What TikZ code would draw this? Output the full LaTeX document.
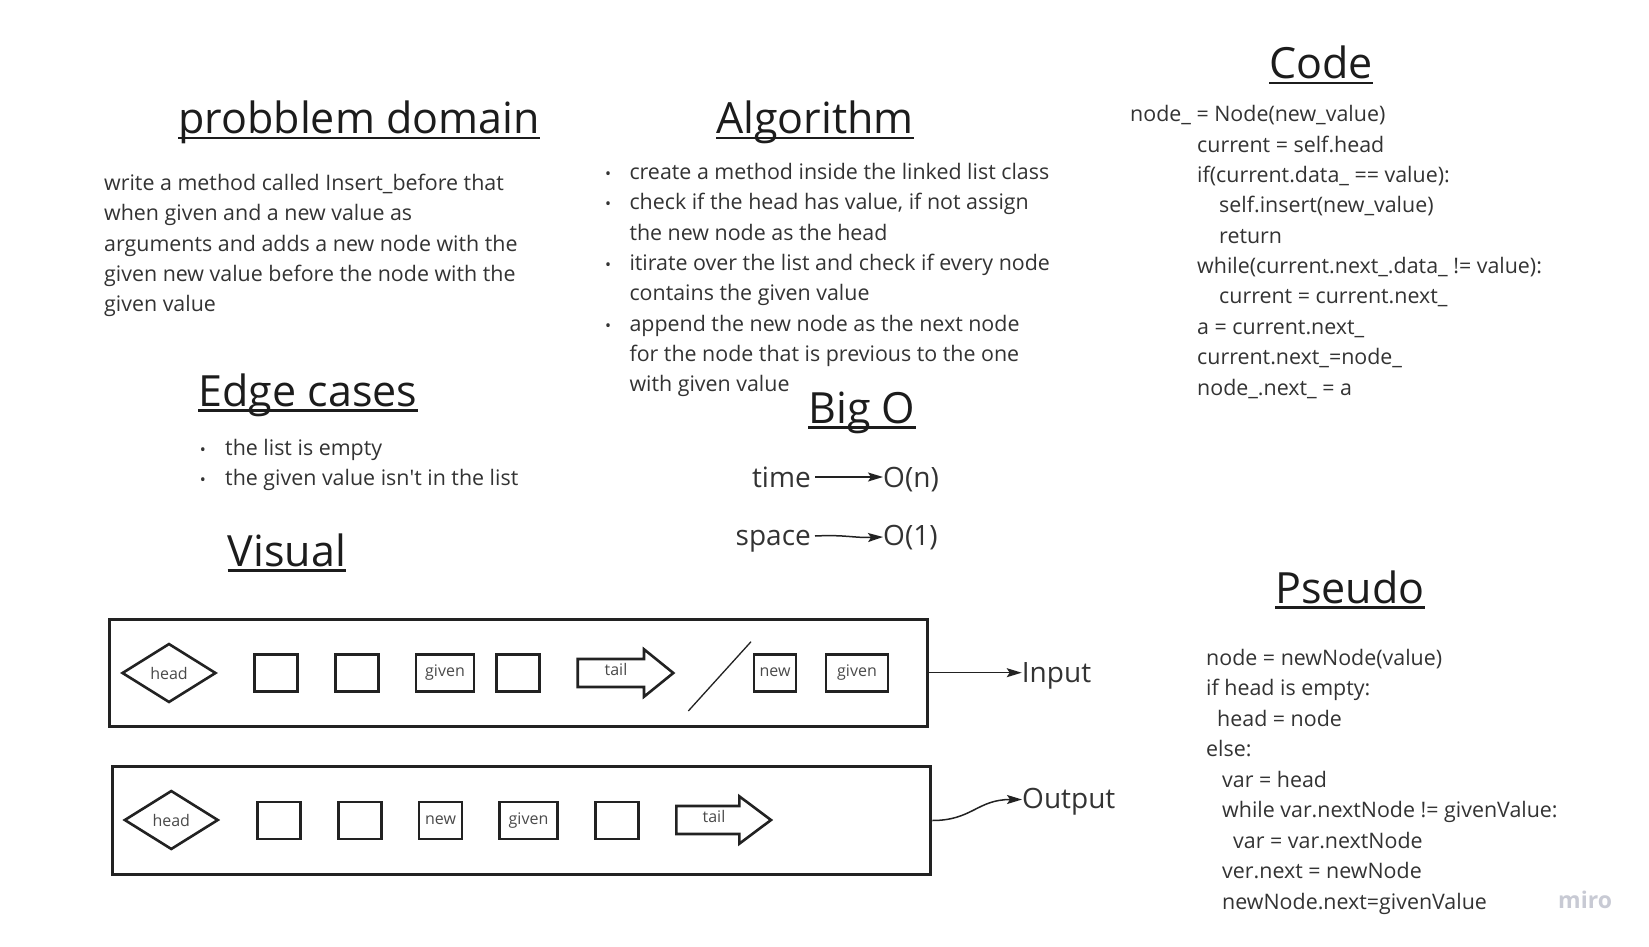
\documentclass[tikz,border=0pt]{standalone}
\usepackage{fontspec}
\setmainfont{Open Sans}
\usetikzlibrary{arrows.meta,shapes.geometric}
\definecolor{txt}{HTML}{333333}
\definecolor{ttl}{HTML}{1C1C1C}
\definecolor{shp}{HTML}{222222}
\definecolor{lbl}{HTML}{4A4A4A}
\definecolor{wm}{HTML}{C8CAD4}
\begin{document}
\begin{tikzpicture}[x=1pt,y=-1pt,
  title/.style={font=\fontsize{43}{50}\selectfont, text=ttl, inner sep=0pt, anchor=base},
  uline/.style={draw=ttl, line width=2.4pt},
  body/.style={font=\fontsize{21.4}{30}\selectfont, text=txt, inner sep=0pt, anchor=base west},
  bul/.style={font=\fontsize{16}{18}\selectfont, text=txt, inner sep=0pt, anchor=base},
  big/.style={font=\fontsize{28}{32}\selectfont, text=txt, inner sep=0pt},
  frame/.style={draw=shp, line width=3pt, inner sep=0pt},
  cell/.style={draw=shp, line width=2.6pt, inner sep=0pt, minimum height=37pt, minimum width=43pt, font=\fontsize{16}{18}\selectfont, text=lbl},
  headnode/.style={draw=shp, line width=2.6pt, shape=diamond, inner sep=0pt, minimum width=94pt, minimum height=59pt, font=\fontsize{16}{18}\selectfont, text=lbl},
  tailshape/.style={draw=shp, line width=2.6pt, line join=miter},
  taillbl/.style={font=\fontsize{16}{18}\selectfont, text=lbl, inner sep=0pt},
  conn/.style={draw=shp, line width=1.5pt, -{Stealth[length=15pt,width=9pt,inset=3pt]}}
]
\path[fill=white] (0,0) rectangle (1649,947);
\useasboundingbox (0,0) rectangle (1649,947);

% ---- titles
\node[title] (pd) at (359,133.5) {probblem domain};
\node[title] (alg) at (815,133.5) {Algorithm};
\node[title] (code) at (1321,78.3) {Code};
\node[title] (edge) at (308,406) {Edge cases};
\node[title] (bigo) at (862,423) {Big O};
\node[title] (vis) at (287,566) {Visual};
\node[title] (pseudo) at (1350,603) {Pseudo};
\foreach \n in {pd,alg,code,edge,bigo,vis,pseudo}
  \draw[uline] ([yshift=-4.5pt]\n.base west) -- ([yshift=-4.5pt]\n.base east);

% ---- problem domain
\foreach \i/\t in {1/{write a method called Insert\_before that},
                   2/{when given and a new value as},
                   3/{arguments and adds a new node with the},
                   4/{given new value before the node with the},
                   5/{given value}}
  \node[body] (pdl\i) at (104,{190.7+30.25*(\i-1)}) {\t};

% ---- algorithm
\foreach \i/\t in {1/{create a method inside the linked list class},
                   2/{check if the head has value, if not assign},
                   3/{the new node as the head},
                   4/{itirate over the list and check if every node},
                   5/{contains the given value},
                   6/{append the new node as the next node},
                   7/{for the node that is previous to the one},
                   8/{with given value}}
  \node[body] (alg\i) at (629.3,{179.3+30.35*(\i-1)}) {\t};
\foreach \i in {1,2,4,6}
  \node[bul] (algb\i) at (608,{179.3+30.35*(\i-1)}) {•};

% ---- edge cases
\node[body] (edg1) at (225,455) {the list is empty};
\node[body] (edg2) at (225,485) {the given value isn\textquotesingle t in the list};
\node[bul] (edgb1) at (203,455) {•};
\node[bul] (edgb2) at (203,485) {•};

% ---- code
\foreach \i/\x/\t in {1/1130/{node\_ = Node(new\_value)},
                      2/1197/{current = self.head},
                      3/1197/{if(current.data\_ == value):},
                      4/1219/{self.insert(new\_value)},
                      5/1219/{return},
                      6/1197/{while(current.next\_.data\_ != value):},
                      7/1219/{current = current.next\_},
                      8/1197/{a = current.next\_},
                      9/1197/{current.next\_=node\_},
                      10/1197/{node\_.next\_ = a}}
  \node[body] (cl\i) at (\x,{121.7+30.37*(\i-1)}) {\t};

% ---- pseudo
\foreach \i/\x/\t in {1/1206/{node = newNode(value)},
                      2/1206/{if head is empty:},
                      3/1217/{head = node},
                      4/1206/{else:},
                      5/1222/{var = head},
                      6/1222/{while var.nextNode != givenValue:},
                      7/1233/{var = var.nextNode},
                      8/1222/{ver.next = newNode},
                      9/1222/{newNode.next=givenValue}}
  \node[body] (ps\i) at (\x,{665+30.5*(\i-1)}) {\t};

\node[inner sep=0pt, anchor=base west, text=wm, font=\fontsize{23}{26}\selectfont\bfseries] (miro) at (1558,908) {miro};

% ---- Big O
\node[big, anchor=base east] (time) at (811,487) {time};
\node[big, anchor=base west] (on) at (883,487) {O(n)};
\node[big, anchor=base east] (space) at (811,545) {space};
\node[big, anchor=base west] (o1) at (883,545) {O(1)};
\draw[conn] ([yshift=10pt,xshift=4pt]time.base east) -- ([yshift=10pt]on.base west);
\draw[conn] ([yshift=9pt,xshift=4pt]space.base east) .. controls +(30,-1.5) and +(-30,1) .. ([yshift=8pt]o1.base west);

% ---- input row
\node[frame, minimum width=818pt, minimum height=106.7pt] (inrow) at (518.3,672.7) {};
\node[headnode] (ih) at (169,673) {head};
\node[cell] (ib1) at (276,672.7) {};
\node[cell] (ib2) at (356.8,672.7) {};
\node[cell, minimum width=58pt] (ig) at (445,672.7) {given};
\node[cell] (ib4) at (518,672.7) {};
\draw[tailshape] (577.7,659) -- (644,659) -- (644,649.3) -- (673.3,673) -- (644,696.7) -- (644,687) -- (577.7,687) -- cycle;
\node[taillbl] (itail) at (616,669) {tail};
\draw[shp, line width=1.3pt] (688.3,711) -- (751,641.7);
\node[cell, minimum width=42pt] (inew) at (775,672.7) {new};
\node[cell, minimum width=62pt] (ig2) at (857,672.7) {given};
\node[big, anchor=base west] (inlbl) at (1021.7,682) {Input};
\draw[conn] (inrow.east) -- (inrow.east -| inlbl.west);

% ---- output row
\node[frame, minimum width=818.5pt, minimum height=107.6pt] (outrow) at (521.5,820.5) {};
\node[headnode] (oh) at (171.3,820) {head};
\node[cell] (ob1) at (279,820.3) {};
\node[cell] (ob2) at (359.7,820.3) {};
\node[cell] (onew) at (440.5,820.3) {new};
\node[cell, minimum width=58pt] (og) at (528.5,820.3) {given};
\node[cell] (ob5) at (617,820.3) {};
\draw[tailshape] (676.3,806) -- (739.3,806) -- (739.3,796.3) -- (771,820) -- (739.3,843.7) -- (739.3,834) -- (676.3,834) -- cycle;
\node[taillbl] (otail) at (714,816) {tail};
\node[big, anchor=base west] (outlbl) at (1022,808.5) {Output};
\draw[conn] (outrow.east) .. controls +(40,0) and +(-45,0) .. ([yshift=9pt]outlbl.base west);
\end{tikzpicture}
\end{document}
